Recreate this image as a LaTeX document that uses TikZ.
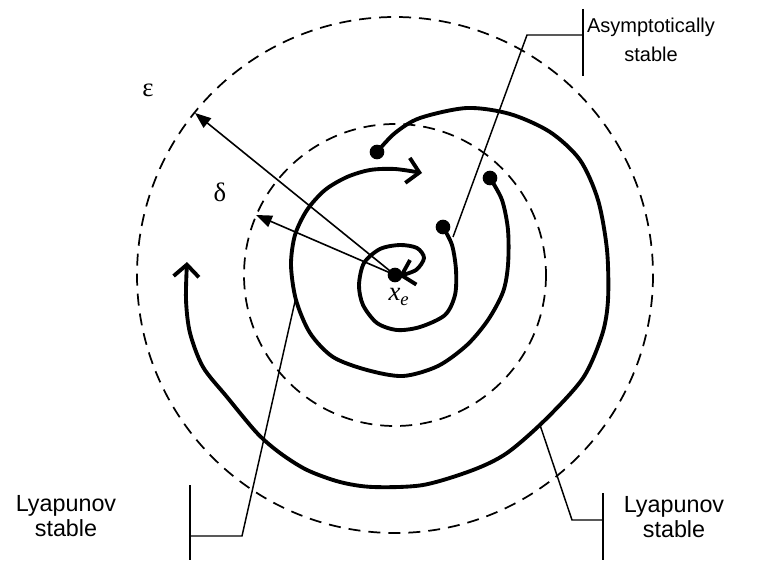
\documentclass[tikz,border=0pt]{standalone}
\usepackage{fontspec}
\setmainfont{Liberation Serif}
\setsansfont{Liberation Sans}
\usetikzlibrary{arrows.meta}
\tikzset{
  traj/.style={line width=2.9pt,line cap=round},
  bound/.style={line width=1.3pt,dash pattern=on 9pt off 6pt},
  leader/.style={line width=1.1pt},
  radarrow/.style={line width=1.2pt,-{Triangle[length=12pt,width=9pt]}},
  flow/.style={-{Straight Barb[length=9pt,width=19pt]}},
  dot/.style={circle,fill=black,inner sep=0pt,minimum size=11pt},
  lbl/.style={font=\sffamily\fontsize{17.5}{18.8}\selectfont,align=center},
  toplbl/.style={font=\sffamily\fontsize{15}{21.5}\selectfont,align=center},
  grk/.style={font=\fontsize{20}{24}\selectfont}
}

\begin{document}
\begin{tikzpicture}[x=0.75pt,y=-0.75pt]
\useasboundingbox (0,0) rectangle (759,560);
% equilibrium and the two balls
\node[dot] (xe) at (395,275) {};
\node[grk] (xelbl) at (399,297) {\textit{x}\textsubscript{\textit{e}}};
\draw[bound] (xe.center) circle (258);
\draw[bound] (xe.center) circle (151);
% radii
\coordinate (epstip) at (195,113);
\coordinate (deltip) at (256,215);
\draw[radarrow] (xe.center) -- (epstip);
\draw[radarrow] (xe.center) -- (deltip);
\node[grk] (eps) at (148,90) {ε};
\node[grk] (del) at (220,192) {δ};
% trajectories
\node[dot] (start1) at (443,227) {};
\node[dot] (start2) at (490,178) {};
\node[dot] (start3) at (377,152) {};
\draw[traj,flow] plot[smooth] coordinates {(start1.center) (452,245) (456,270) (455,295)
  (445,315) (420,327) (397,330) (377,323) (363,305) (359,285) (364,263) (380,249)
  (400,245) (417,248) (424,258) (416,270) (399,276)};
\draw[traj,flow] plot[smooth] coordinates {(start2.center) (502,200) (508,230) (508,265)
  (503,292) (488,320) (467,345) (438,366) (403,376) (367,370) (333,357) (310,333)
  (296,300) (291,265) (295,235) (307,210) (325,190) (347,177) (370,170) (395,169)
  (422,173)};
\draw[traj,flow] plot[smooth] coordinates {(start3.center) (395,133) (420,118) (467,108)
  (510,114) (550,132) (580,160) (598,200) (607,250) (608,300) (602,335) (583,378)
  (545,420) (507,453) (473,470) (423,485) (373,487) (340,482) (307,470) (280,453)
  (257,433) (227,397) (203,367) (190,333) (186,300) (187,262)};
% labels and leaders
\node[toplbl] (asylbl) at (651,40) {Asymptotically\\stable};
\coordinate (asyend) at (453,237);
\coordinate (asyknee) at (527,35);
\draw[leader] (583,9) -- (583,76);
\draw[leader] (583,35) -- (asyknee) -- (asyend);
\node[lbl] (lyalbl) at (66,516) {Lyapunov\\stable};
\coordinate (lyaend) at (296,297);
\coordinate (lyaknee) at (242,536);
\draw[leader] (190,485) -- (190,560);
\draw[leader] (190,536) -- (lyaknee) -- (lyaend);
\node[lbl] (lyblbl) at (674,517) {Lyapunov\\stable};
\coordinate (lybend) at (540,425);
\coordinate (lybknee) at (572,520);
\draw[leader] (603,493) -- (603,560);
\draw[leader] (603,520) -- (lybknee) -- (lybend);
\end{tikzpicture}
\end{document}
